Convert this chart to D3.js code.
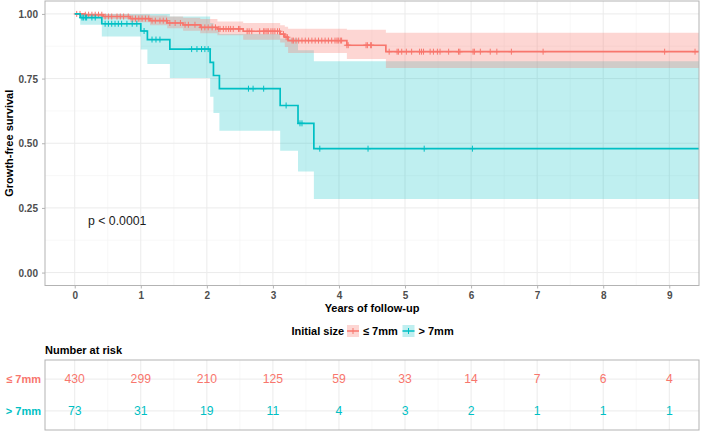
<!DOCTYPE html>
<html>
<head>
<meta charset="utf-8">
<script src="https://cdn.jsdelivr.net/npm/d3@7"></script>
<style>
  body { margin: 0; background: #fff; }
  svg text { font-family: "Liberation Sans", Arial, sans-serif; }
</style>
</head>
<body>
<div id="chart"></div>
<script>
// groups
const groups = ["≤ 7mm", "> 7mm"];
const colors = ["#F8766D", "#00BFC4"];

// ≤ 7mm : KM steps (years, survival, 95% CI)
const lowTime  = [0, 0.16, 0.43, 0.84, 1.14, 1.40, 1.64, 1.90, 2.16, 2.55, 3.11, 3.18, 3.23, 4.12, 4.71];
const lowSurv  = [1, 0.997, 0.990, 0.982, 0.974, 0.965, 0.958, 0.948, 0.942, 0.933, 0.922, 0.910, 0.897, 0.879, 0.854];
const lowLower = [1, 0.990, 0.980, 0.968, 0.956, 0.945, 0.935, 0.925, 0.918, 0.900, 0.890, 0.872, 0.849, 0.826, 0.791];
const lowUpper = [1, 1, 1, 0.998, 0.994, 0.990, 0.985, 0.980, 0.971, 0.965, 0.956, 0.950, 0.943, 0.939, 0.927];
const lowCensor = [0.03, 0.08, 0.16, 0.21, 0.26, 0.31, 0.36, 0.41, 0.46, 0.51, 0.56, 0.64, 0.69, 0.74, 0.81, 0.87,
  0.92, 0.97, 1.02, 1.07, 1.12, 1.17, 1.22, 1.29, 1.34, 1.39, 1.44, 1.52, 1.60, 1.67, 1.72, 1.82, 1.92, 1.97,
  2.02, 2.08, 2.13, 2.18, 2.20, 2.25, 2.29, 2.33, 2.36, 2.40, 2.48, 2.50, 2.61, 2.64, 2.68, 2.80, 2.86, 2.88,
  2.91, 2.93, 2.97, 3.00, 3.03, 3.07, 3.10, 3.16, 3.20, 3.22, 3.29, 3.31, 3.35, 3.39, 3.44, 3.49, 3.54, 3.59,
  3.64, 3.69, 3.74, 3.79, 3.84, 3.89, 3.94, 3.97, 3.99, 4.02, 4.04, 4.12, 4.14, 4.41, 4.43, 4.48, 4.49, 4.76,
  4.88, 4.90, 4.95, 5.02, 5.10, 5.22, 5.25, 5.28, 5.38, 5.43, 5.49, 5.53, 5.66, 5.81, 5.83, 6.03, 6.05, 6.14,
  6.29, 6.39, 6.61, 7.09, 8.93, 9.39];

// > 7mm
const highTime  = [0, 0.083, 0.41, 1.00, 1.10, 1.44, 2.05, 2.10, 2.19, 3.11, 3.38, 3.62];
const highSurv  = [1, 0.986, 0.962, 0.934, 0.901, 0.864, 0.813, 0.762, 0.711, 0.646, 0.577, 0.479];
const highLower = [1, 0.958, 0.913, 0.862, 0.806, 0.752, 0.680, 0.617, 0.548, 0.471, 0.391, 0.284];
const highUpper = [1, 1, 1, 1, 1, 0.990, 0.965, 0.940, 0.922, 0.905, 0.860, 0.817];
const highCensor = [0.11, 0.13, 0.16, 0.18, 0.26, 0.31, 0.46, 0.51, 0.56, 0.61, 0.66, 0.71, 0.79, 0.87, 0.94,
  1.05, 1.17, 1.23, 1.29, 1.77, 1.85, 1.92, 1.97, 2.02, 2.63, 2.70, 2.86, 3.20, 3.41, 3.44, 3.71, 4.44, 5.29, 6.02];

// number at risk
const riskTimes = [0, 1, 2, 3, 4, 5, 6, 7, 8, 9];
const riskLow  = [430, 299, 210, 125, 59, 33, 14, 7, 6, 4];
const riskHigh = [73, 31, 19, 11, 4, 3, 2, 1, 1, 1];

const xTicks = [0, 1, 2, 3, 4, 5, 6, 7, 8, 9];
const yTicks = [0, 0.25, 0.5, 0.75, 1];
const endTime = 9.6;

const width = 701, height = 432;
const panel = { left: 45, right: 699, top: 1, bottom: 285.5 };
const table = { top: 360, bottom: 430 };
const font = "'Liberation Sans', Arial, sans-serif";

const svg = d3.select("#chart").append("svg")
    .attr("width", width)
    .attr("height", height);

const x = d3.scaleLinear().domain([-0.45, 9.45]).range([panel.left, panel.right]);
const y = d3.scaleLinear().domain([-0.05, 1.05]).range([panel.bottom, panel.top]);

svg.append("defs").append("clipPath").attr("id", "clip")
    .append("rect")
    .attr("x", panel.left).attr("y", panel.top)
    .attr("width", panel.right - panel.left).attr("height", panel.bottom - panel.top);

// grid
const grid = svg.append("g");
const xMinor = d3.range(-0.5, 9.6, 1).filter((d) => d > -0.45 && d < 9.45);
const yMinor = [0.125, 0.375, 0.625, 0.875];
grid.selectAll(".xminor").data(xMinor).enter().append("line")
    .attr("x1", (d) => x(d)).attr("x2", (d) => x(d))
    .attr("y1", panel.top).attr("y2", panel.bottom)
    .attr("stroke", "#f4f4f4").attr("stroke-width", 0.6);
grid.selectAll(".yminor").data(yMinor).enter().append("line")
    .attr("x1", panel.left).attr("x2", panel.right)
    .attr("y1", (d) => y(d)).attr("y2", (d) => y(d))
    .attr("stroke", "#f4f4f4").attr("stroke-width", 0.6);
grid.selectAll(".xmajor").data(xTicks).enter().append("line")
    .attr("x1", (d) => x(d)).attr("x2", (d) => x(d))
    .attr("y1", panel.top).attr("y2", panel.bottom)
    .attr("stroke", "#ebebeb").attr("stroke-width", 1);
grid.selectAll(".ymajor").data(yTicks).enter().append("line")
    .attr("x1", panel.left).attr("x2", panel.right)
    .attr("y1", (d) => y(d)).attr("y2", (d) => y(d))
    .attr("stroke", "#ebebeb").attr("stroke-width", 1);

// curves
function toSteps(times, surv, lower, upper) {
    const pts = times.map((t, i) => ({ t: t, s: surv[i], lo: lower[i], hi: upper[i] }));
    const last = pts[pts.length - 1];
    pts.push({ t: endTime, s: last.s, lo: last.lo, hi: last.hi });
    return pts;
}
function survAt(times, surv, t) {
    let v = surv[0];
    times.forEach((tt, i) => { if (tt <= t) v = surv[i]; });
    return v;
}

const strata = [
    { steps: toSteps(lowTime, lowSurv, lowLower, lowUpper), times: lowTime, surv: lowSurv, censor: lowCensor, color: colors[0], alpha: 0.3 },
    { steps: toSteps(highTime, highSurv, highLower, highUpper), times: highTime, surv: highSurv, censor: highCensor, color: colors[1], alpha: 0.25 }
];

const plot = svg.append("g").attr("clip-path", "url(#clip)");

const area = d3.area().curve(d3.curveStepAfter)
    .x((d) => x(d.t)).y0((d) => y(d.lo)).y1((d) => y(d.hi));
const line = d3.line().curve(d3.curveStepAfter)
    .x((d) => x(d.t)).y((d) => y(d.s));

strata.slice().reverse().forEach((s) => {
    plot.append("path").attr("d", area(s.steps))
        .attr("fill", s.color).attr("fill-opacity", s.alpha);
});
strata.forEach((s) => {
    plot.append("path").attr("d", line(s.steps))
        .attr("fill", "none").attr("stroke", s.color).attr("stroke-width", 1.7);
    const marks = plot.append("g").attr("stroke", s.color).attr("stroke-width", 1);
    s.censor.forEach((t) => {
        const cx = x(t), cy = y(survAt(s.times, s.surv, t));
        marks.append("line").attr("x1", cx).attr("x2", cx).attr("y1", cy - 3).attr("y2", cy + 3);
        marks.append("line").attr("x1", cx - 3).attr("x2", cx + 3).attr("y1", cy).attr("y2", cy);
    });
});

// panel border
svg.append("rect")
    .attr("x", panel.left).attr("y", panel.top)
    .attr("width", panel.right - panel.left).attr("height", panel.bottom - panel.top)
    .attr("fill", "none").attr("stroke", "#b3b3b3").attr("stroke-width", 1);

// axes
const xAxis = svg.append("g")
    .attr("transform", `translate(0,${panel.bottom})`)
    .call(d3.axisBottom(x).tickValues(xTicks).tickSize(3).tickPadding(2).tickFormat(d3.format("d")));
const yAxis = svg.append("g")
    .attr("transform", `translate(${panel.left},0)`)
    .call(d3.axisLeft(y).tickValues(yTicks).tickSize(3).tickPadding(4).tickFormat(d3.format(".2f")));
[xAxis, yAxis].forEach((a) => {
    a.select(".domain").remove();
    a.selectAll(".tick line").attr("stroke", "#b3b3b3");
    a.selectAll(".tick text")
        .attr("fill", "#4d4d4d").attr("font-weight", "bold").attr("font-size", 10)
        .attr("font-family", font);
});
xAxis.selectAll(".tick text").attr("dy", "0.71em").attr("y", 6);
yAxis.selectAll(".tick text").attr("dy", "0.35em");

svg.append("text")
    .attr("x", (panel.left + panel.right) / 2).attr("y", 312)
    .attr("text-anchor", "middle").attr("font-weight", "bold").attr("font-size", 11)
    .text("Years of follow-up");
svg.append("text")
    .attr("transform", `translate(13,${(panel.top + panel.bottom) / 2}) rotate(-90)`)
    .attr("text-anchor", "middle").attr("font-weight", "bold").attr("font-size", 11)
    .text("Growth-free survival");

svg.append("text")
    .attr("x", x(0.2)).attr("y", y(0.2) + 4.5)
    .attr("font-size", 12.3).attr("fill", "#1a1a1a")
    .text("p < 0.0001");

// legend
const legend = svg.append("g").attr("transform", "translate(0,331)");
legend.append("text").attr("x", 291.5).attr("y", 4)
    .attr("font-weight", "bold").attr("font-size", 11).text("Initial size");
const keyX = [347, 402.5];
groups.forEach((g, i) => {
    const k = legend.append("g").attr("transform", `translate(${keyX[i]},0)`);
    k.append("rect").attr("x", 0).attr("y", -6).attr("width", 12).attr("height", 12)
        .attr("fill", colors[i]).attr("fill-opacity", strata[i].alpha);
    k.append("line").attr("x1", 0).attr("x2", 12).attr("y1", 0).attr("y2", 0)
        .attr("stroke", colors[i]).attr("stroke-width", 1.5);
    k.append("line").attr("x1", 6).attr("x2", 6).attr("y1", -3).attr("y2", 3)
        .attr("stroke", colors[i]).attr("stroke-width", 1);
    legend.append("text").attr("x", keyX[i] + 16).attr("y", 4)
        .attr("font-weight", "bold").attr("font-size", 11).text(g);
});

// risk table
svg.append("text").attr("x", panel.left).attr("y", 354)
    .attr("font-weight", "bold").attr("font-size", 11).text("Number at risk");

const row = d3.scalePoint().domain(groups).range([table.top, table.bottom]).padding(0.6);
const tg = svg.append("g");
tg.selectAll(".tminor").data(xMinor).enter().append("line")
    .attr("x1", (d) => x(d)).attr("x2", (d) => x(d))
    .attr("y1", table.top).attr("y2", table.bottom)
    .attr("stroke", "#f4f4f4").attr("stroke-width", 0.6);
tg.selectAll(".tmajor").data(xTicks).enter().append("line")
    .attr("x1", (d) => x(d)).attr("x2", (d) => x(d))
    .attr("y1", table.top).attr("y2", table.bottom)
    .attr("stroke", "#ebebeb").attr("stroke-width", 1);
tg.selectAll(".trow").data(groups).enter().append("line")
    .attr("x1", panel.left).attr("x2", panel.right)
    .attr("y1", (d) => row(d)).attr("y2", (d) => row(d))
    .attr("stroke", "#ebebeb").attr("stroke-width", 1);
tg.append("rect")
    .attr("x", panel.left).attr("y", table.top)
    .attr("width", panel.right - panel.left).attr("height", table.bottom - table.top)
    .attr("fill", "none").attr("stroke", "#b3b3b3").attr("stroke-width", 1);

[riskLow, riskHigh].forEach((vals, i) => {
    tg.selectAll(null).data(vals).enter().append("text")
        .attr("x", (d, j) => x(riskTimes[j])).attr("y", row(groups[i]) + 4.4)
        .attr("text-anchor", "middle").attr("font-size", 12.2)
        .attr("fill", colors[i])
        .text((d) => d);
    tg.append("text")
        .attr("x", 41).attr("y", row(groups[i]) + 4)
        .attr("text-anchor", "end").attr("font-weight", "bold").attr("font-size", 11)
        .attr("fill", colors[i])
        .text(groups[i]);
});
</script>
</body>
</html>
